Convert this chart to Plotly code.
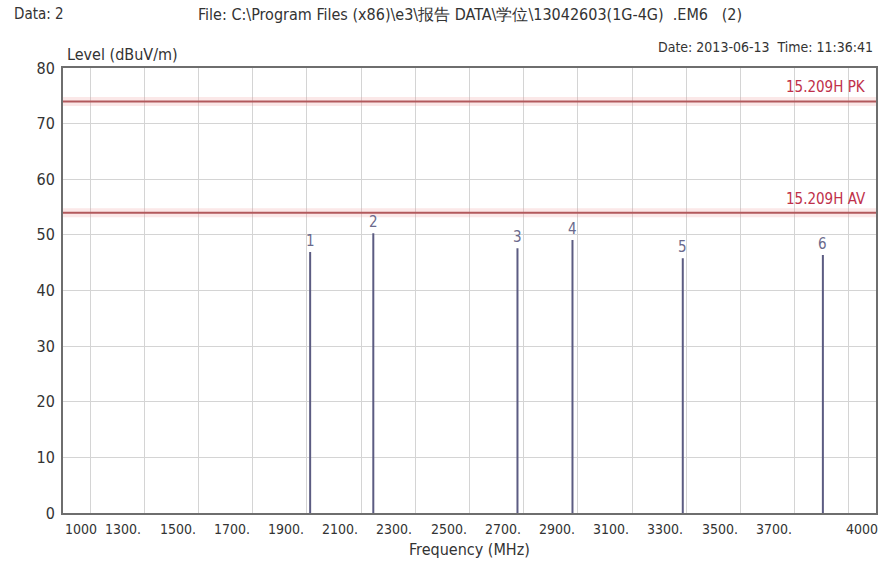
import plotly.graph_objects as go

# ---- data ----
peak_ids = ["1", "2", "3", "4", "5", "6"]
peak_freq_mhz = [1912, 2145, 2677, 2880, 3287, 3804]
peak_level_dbuv = [46.9, 50.3, 47.6, 49.1, 45.8, 46.4]

limit_names = ["15.209H PK", "15.209H AV"]
limit_levels = [74, 54]

x_range = [1000, 4000]
y_range = [0, 80]
x_grid_vals = [1100, 1300, 1500, 1700, 1900, 2100, 2300, 2500, 2700, 2900,
               3100, 3300, 3500, 3700, 3900]
x_label_vals = [1000, 1300, 1500, 1700, 1900, 2100, 2300, 2500, 2700, 2900,
                3100, 3300, 3500, 3700, 4000]
x_label_text = ["1000", "1300.", "1500.", "1700.", "1900.", "2100.", "2300.",
                "2500.", "2700.", "2900.", "3100.", "3300.", "3500.", "3700.", "4000"]
y_tick_vals = [0, 10, 20, 30, 40, 50, 60, 70, 80]

FONT = "Liberation Sans Narrow, Arial Narrow, DejaVu Sans Condensed, Liberation Sans, sans-serif"
TXT = "#333333"

fig = go.Figure()

# limit lines with soft halo
for name, lvl in zip(limit_names, limit_levels):
    fig.add_trace(go.Scatter(x=x_range, y=[lvl, lvl], mode="lines",
                             line=dict(color="rgba(235,150,150,0.22)", width=9),
                             hoverinfo="skip", showlegend=False))
    fig.add_trace(go.Scatter(x=x_range, y=[lvl, lvl], mode="lines",
                             line=dict(color="#b2595c", width=2),
                             name=name, showlegend=False))

# peak stems
xs, ys = [], []
for f, l in zip(peak_freq_mhz, peak_level_dbuv):
    xs += [f, f, None]
    ys += [0, l, None]
fig.add_trace(go.Scatter(x=xs, y=ys, mode="lines",
                         line=dict(color="#5c5c82", width=2),
                         showlegend=False))

annotations = []
# peak labels
for pid, f, l in zip(peak_ids, peak_freq_mhz, peak_level_dbuv):
    annotations.append(dict(x=f, y=l, xref="x", yref="y", text=pid, showarrow=False,
                            yanchor="bottom", xanchor="center", yshift=0,
                            font=dict(family=FONT, size=15, color="#6a6a8c")))
# limit labels
for name, lvl in zip(limit_names, limit_levels):
    annotations.append(dict(x=0.99, y=lvl, xref="paper", yref="y", text=name,
                            showarrow=False, xanchor="right", yanchor="bottom", yshift=3,
                            font=dict(family=FONT, size=15, color="#c0304a")))
# x tick labels
for v, t in zip(x_label_vals, x_label_text):
    anchor = "left" if v == x_range[0] else "right"
    annotations.append(dict(x=v, y=0, xref="x", yref="y", text=t, showarrow=False,
                            xanchor=anchor, yanchor="top", yshift=-6,
                            xshift=(0 if v == x_range[0] else (4 if v == x_range[1] else -1)),
                            font=dict(family=FONT, size=14, color=TXT)))
# header texts
annotations += [
    dict(x=-0.063, y=1.121, xref="paper", yref="paper", text="Data: 2", showarrow=False,
         xanchor="left", yanchor="middle", font=dict(family=FONT, size=15, color=TXT)),
    dict(x=0.50, y=1.121, xref="paper", yref="paper",
         text="File: C:\\Program Files (x86)\\e3\\报告 DATA\\学位\\13042603(1G-4G)  .EM6   (2)",
         showarrow=False, xanchor="center", yanchor="middle",
         font=dict(family=FONT, size=16, color=TXT)),
    dict(x=0.003, y=1.03, xref="paper", yref="paper", text="Level (dBuV/m)", showarrow=False,
         xanchor="left", yanchor="middle", font=dict(family=FONT, size=16, color=TXT)),
    dict(x=0.999, y=1.047, xref="paper", yref="paper", text="Date: 2013-06-13  Time: 11:36:41",
         showarrow=False, xanchor="right", yanchor="middle",
         font=dict(family=FONT, size=14, color=TXT)),
    dict(x=0.5, y=-0.083, xref="paper", yref="paper", text="Frequency (MHz)", showarrow=False,
         xanchor="center", yanchor="middle", font=dict(family=FONT, size=16, color=TXT)),
]

fig.update_layout(
    width=890, height=568,
    margin=dict(l=63, r=14, t=68, b=55),
    paper_bgcolor="white", plot_bgcolor="white",
    font=dict(family=FONT, size=14, color=TXT),
    annotations=annotations,
    xaxis=dict(range=x_range, tickvals=x_grid_vals, showticklabels=False,
               showgrid=True, gridcolor="#d4d4d4", gridwidth=1, zeroline=False,
               showline=True, linecolor="#6e6e6e", linewidth=2, mirror=True, ticks=""),
    yaxis=dict(range=y_range, tickvals=y_tick_vals, showgrid=True, gridcolor="#d4d4d4",
               gridwidth=1, zeroline=False, showline=True, linecolor="#6e6e6e",
               linewidth=2, mirror=True, ticks="", ticklabelstandoff=3,
               tickfont=dict(family=FONT, size=16, color=TXT)),
)

fig.write_html("out.html")
